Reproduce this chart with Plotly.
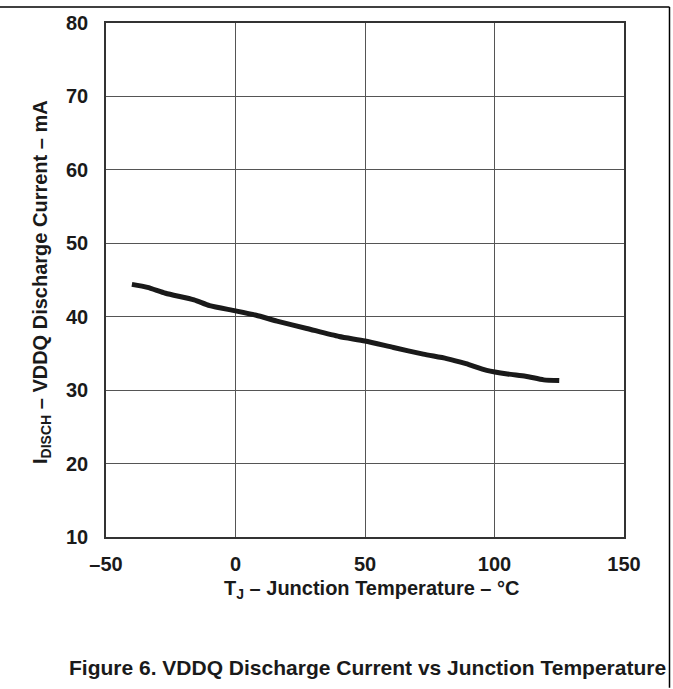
import plotly.graph_objects as go

# Data
temp_c = [-40, -34, -27, -16, -10, 0, 8, 16, 27.5, 40, 50, 61, 72.5, 81.5, 89, 97, 105, 112, 119, 125]
disch_ma = [44.4, 44.0, 43.2, 42.3, 41.5, 40.8, 40.2, 39.4, 38.4, 37.3, 36.7, 35.8, 34.9, 34.3, 33.6, 32.7, 32.2, 31.9, 31.4, 31.3]

x_tick_vals = [-50, 0, 50, 100, 150]
x_tick_text = ["\u201350", "0", "50", "100", "150"]
y_tick_vals = [10, 20, 30, 40, 50, 60, 70, 80]
y_tick_text = ["10", "20", "30", "40", "50", "60", "70", "80"]

x_title = "T<sub>J</sub> \u2013 Junction Temperature \u2013 \u00b0C"
y_title = "I<sub>DISCH</sub> \u2013 VDDQ Discharge Current \u2013 mA"
caption = "Figure 6. VDDQ Discharge Current vs Junction Temperature"

FONT = "Liberation Sans, Arial, sans-serif"
FS = 20

W, H = 673, 689
L, R, T, B = 106, 49, 19, 152
pw, ph = W - L - R, H - T - B

def px_x(x):
    return (x - L) / pw

def px_y(y):
    return (H - B - y) / ph

fig = go.Figure()
fig.add_trace(go.Scatter(
    x=temp_c, y=disch_ma, mode="lines",
    line=dict(color="#1a1a1a", width=5, shape="spline", smoothing=0.6),
    showlegend=False, hoverinfo="skip",
))

axis_common = dict(
    showgrid=True, gridcolor="#555555", gridwidth=1,
    showline=True, linecolor="#333333", linewidth=1.5, mirror=True,
    zeroline=False, ticks="",
    tickfont=dict(family=FONT, size=FS, color="#1a1a1a", weight="bold"),
)

fig.update_xaxes(range=[-50, 150], tickvals=x_tick_vals, ticktext=x_tick_text,
                 ticklabelstandoff=8, **axis_common)
fig.update_yaxes(range=[10, 80], tickvals=y_tick_vals, ticktext=y_tick_text,
                 ticklabelstandoff=12, **axis_common)

annotations = [
    dict(text=x_title, x=px_x(371), y=px_y(590), xref="paper", yref="paper",
         xanchor="center", yanchor="middle", showarrow=False,
         font=dict(family=FONT, size=FS, color="#1a1a1a", weight="bold")),
    dict(text=y_title, x=px_x(42), y=px_y(280), xref="paper", yref="paper",
         xanchor="center", yanchor="middle", showarrow=False, textangle=-90,
         font=dict(family=FONT, size=FS, color="#1a1a1a", weight="bold")),
    dict(text=caption, x=px_x(668), y=px_y(669), xref="paper", yref="paper",
         xanchor="right", yanchor="middle", showarrow=False,
         font=dict(family=FONT, size=21, color="#1a1a1a", weight="bold")),
]

frame_top = px_y(3)
frame_right = px_x(669.5)
shapes = [
    dict(type="line", xref="paper", yref="paper", x0=px_x(0), x1=frame_right,
         y0=frame_top, y1=frame_top, line=dict(color="black", width=1.5)),
    dict(type="line", xref="paper", yref="paper", x0=frame_right, x1=frame_right,
         y0=frame_top, y1=px_y(689), line=dict(color="black", width=1.5)),
]

fig.update_layout(
    width=W, height=H,
    margin=dict(l=L, r=R, t=T, b=B, pad=0),
    paper_bgcolor="white", plot_bgcolor="white",
    annotations=annotations, shapes=shapes,
    showlegend=False,
)

fig.write_html("out.html", config={"displayModeBar": False},
               post_script="document.body.style.margin='0';")
